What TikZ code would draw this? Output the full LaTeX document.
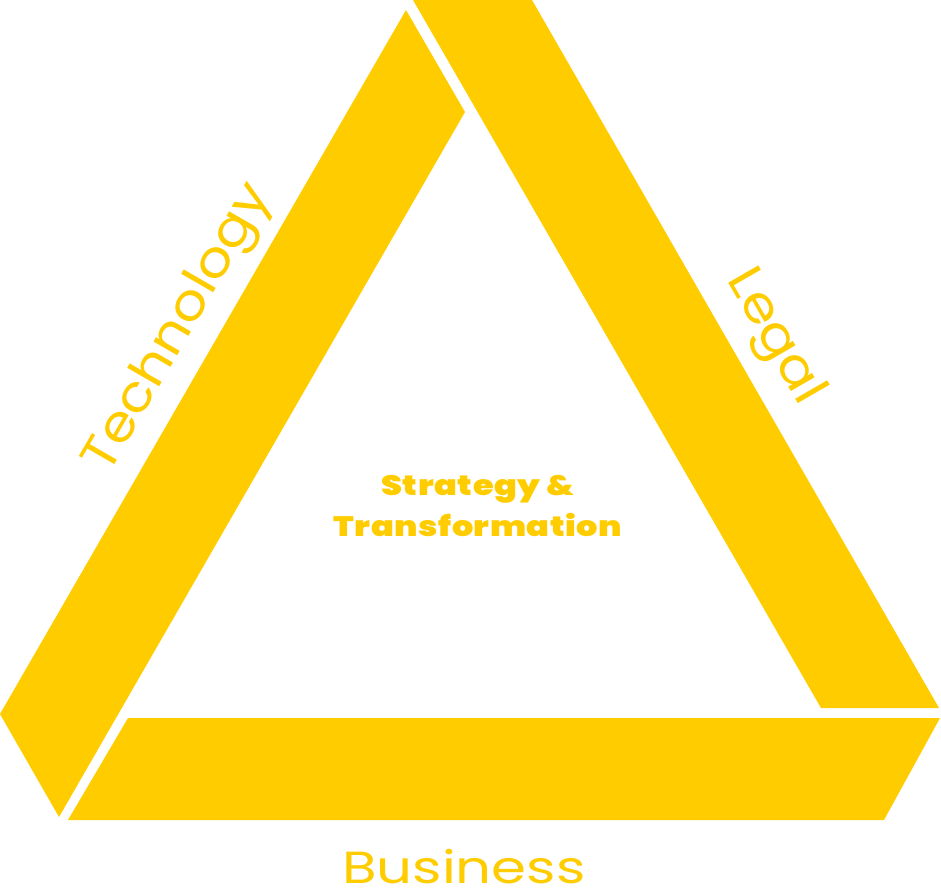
\documentclass[tikz,border=0pt]{standalone}
\usepackage{fontspec}
\setmainfont{Poppins}[BoldFont=* Black]
\definecolor{brandyellow}{RGB}{255,204,0}
\tikzset{
  band/.style={fill=brandyellow, draw=none},
  sidelabel/.style={text=brandyellow, inner sep=0pt},
  centerlabel/.style={text=brandyellow, font=\fontsize{28}{41}\selectfont\bfseries\addfontfeature{FakeStretch=1.2,LetterSpace=2}, align=center, inner sep=0pt}
}
\begin{document}
\begin{tikzpicture}[x=1pt,y=-1pt]
\useasboundingbox (0,0) rectangle (941,889);
% Technology band
\fill[band] (406,10) -- (465,112) -- (59,817) -- (0,714) -- cycle;
% Legal band
\fill[band] (413,0) -- (532,0) -- (939,708) -- (821,708) -- cycle;
% Business band
\fill[band] (128,718) -- (940,718) -- (884,820) -- (68,820) -- cycle;
\node[sidelabel, rotate=60, anchor=base west, font=\fontsize{50}{54}\selectfont\addfontfeature{FakeStretch=1.12}] (tech) at (108,476) {Technology};
\node[sidelabel, rotate=-60, anchor=base west, font=\fontsize{50}{54}\selectfont\addfontfeature{FakeStretch=1.12}] (legal) at (726,279) {Legal};
\node[sidelabel, anchor=base west, font=\fontsize{45}{50}\selectfont\addfontfeature{FakeStretch=1.25}] (business) at (342,883) {Business};
\node[centerlabel] (center) at (478,506) {Strategy \&\\Transformation};
\end{tikzpicture}
\end{document}
